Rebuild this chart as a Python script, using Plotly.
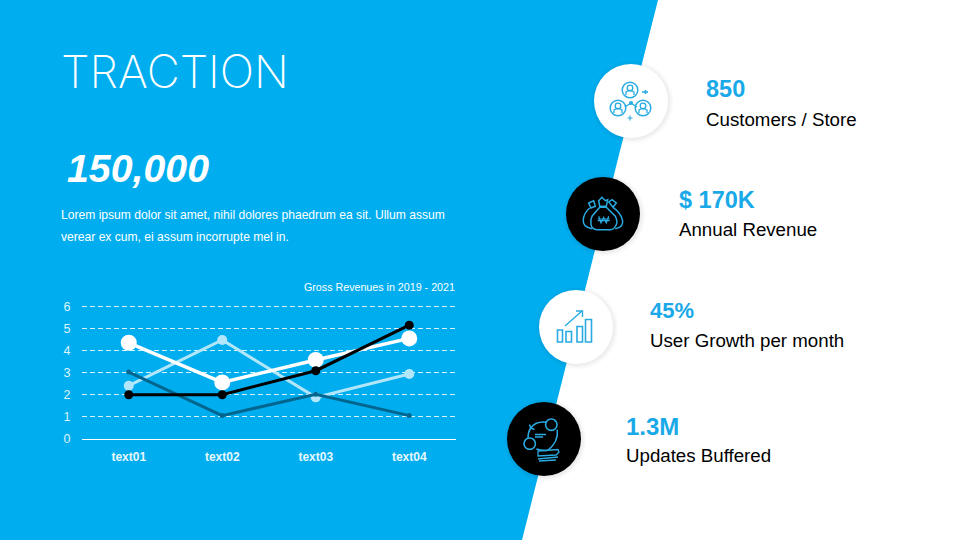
import plotly.graph_objects as go

# chart data
categories = ['text01', 'text02', 'text03', 'text04']
series_light = [2.41, 4.49, 1.88, 2.94]
series_dark = [3.03, 1.05, 2.02, 1.05]
series_white = [4.36, 2.56, 3.58, 4.56]
series_black = [2, 2, 3.09, 5.16]
y_ticks = [0, 1, 2, 3, 4, 5, 6]

# right hand column
stat_values = ['850', '$ 170K', '45%', '1.3M']
stat_labels = ['Customers / Store', 'Annual Revenue', 'User Growth per month', 'Updates Buffered']
stat_x = [706, 679, 650, 626]
stat_value_y = [89, 200, 310, 426]
stat_label_y = [119, 229, 340, 455]
stat_value_size = [23.5, 23.5, 22, 24]

BLUE = '#00AEEF'
TEXT_BLUE = '#1AA9E8'
ICON_BLUE = '#29ABE2'
SANS = 'Liberation Sans'

fig = go.Figure()


def add_series(values, color, width, size):
    fig.add_trace(go.Scatter(x=categories, y=values, mode='lines+markers',
                             line=dict(color=color, width=width),
                             marker=dict(color=color, size=size),
                             showlegend=False, hoverinfo='skip'))


add_series(series_light, '#B2E6FB', 3, 10)
add_series(series_dark, '#00668F', 3, 5)
add_series(series_white, '#FFFFFF', 3.5, 16)
add_series(series_black, '#000000', 3, 9)


def px_shape(kind, **kw):
    # shapes go on the hidden pixel axes
    fig.add_shape(type=kind, xref='x2', yref='y2', **kw)


def circle(cx, cy, r, fill='rgba(0,0,0,0)', color=None, width=0, layer='above'):
    px_shape('circle', x0=cx - r, x1=cx + r, y0=cy - r, y1=cy + r, fillcolor=fill,
             line=dict(color=color, width=width), layer=layer)


def stroke(path, width=1.5, color=ICON_BLUE, fill='rgba(0,0,0,0)'):
    px_shape('path', path=path, line=dict(color=color, width=width), fillcolor=fill, layer='above')


def badge(cx, cy, fill):
    # soft shadow then the disc
    for grow, alpha in [(5, 0.008), (4, 0.01), (3, 0.012), (2, 0.015), (1, 0.02)]:
        circle(cx + 1, cy + 1, 37 + grow, fill='rgba(0,0,0,%s)' % alpha)
    circle(cx, cy, 37, fill=fill)


def person(cx, cy):
    circle(cx, cy, 7.8, color=ICON_BLUE, width=1.5)
    circle(cx, cy - 2, 2.8, color=ICON_BLUE, width=1.3)
    stroke('M %s %s V %s Q %s %s %s %s V %s' % (cx - 4, cy + 5, cy + 2, cx, cy - 1, cx + 4, cy + 2, cy + 5), 1.3)


def page_text(x, y, text, font, anchor='left'):
    # annotations carry about 2px of padding, shift it back out
    fig.add_annotation(x=x, y=y, xref='x2', yref='y2', xanchor=anchor, yanchor='middle', showarrow=False,
                       xshift=-2 if anchor == 'left' else 2, text=text, font=font)


# background panel, on paper so that it stays under the chart
fig.add_shape(type='path', xref='paper', yref='paper', layer='below',
              path='M 0 0 V 1 H %s L %s 0 Z' % (658 / 960, 522 / 960),
              fillcolor=BLUE, line=dict(width=0))

badge(631, 101, '#FFFFFF')
badge(603, 214, '#000000')
badge(576, 327, '#FFFFFF')
badge(544, 439, '#000000')

# people icon
person(630, 90)
person(618, 108)
person(643, 108)
circle(631, 103, 2, fill=ICON_BLUE)
stroke('M 625 107 L 631 103 L 637 107', 1.4)
stroke('M 642 92 H 648 M 645.5 90 V 94', 1.6)
stroke('M 627.5 118 H 632.5 M 630 115.5 V 120.5', 1.1)

# money bags icon
stroke('M 588.7 203 L 593.7 200.7 L 595.3 206.3 L 591 208 Z')
stroke('M 598.7 200.7 L 602 197.3 L 605.3 200.7 L 607.7 199.7 L 606.3 206.3 H 599.7 Z')
stroke('M 608.7 202 L 612 199.7 L 616.3 203 L 613 207.3 Z')
stroke('M 599.7 207.3 H 606.3 L 615.3 216.3 Q 618 222 616.3 224.7 Q 614 229.7 610.3 229.7 H 597 Q 592 229.7 591 224.7 Q 590 220 592 216.3 Z')
stroke('M 589.7 208 Q 583.7 213 583.3 220 Q 582.5 227 592 228.7')
stroke('M 613 207.3 Q 620.3 212 622.5 220 Q 624 227 615.3 228.7')
stroke('M 598.7 216.3 L 601 223 L 603.7 217.3 L 606.3 223 L 608.7 216.3 M 597.7 219 H 609.7 M 597.7 220.7 H 609.7', 1.2)

# growth icon
for x0, x1, y0 in [(557.5, 562.5, 330), (566, 571.5, 331.5), (577, 582.5, 326.5), (585.5, 591.5, 319.5)]:
    stroke('M %s %s H %s V 342 H %s Z' % (x0, y0, x1, x0), 1.6)
stroke('M 565 326 L 582 311', 1.4)
stroke('M 576 311 H 582.5 V 317', 1.4)

# buffered icon
stroke('M 530.7 428 C 534 423.5 540 421.5 546.3 422.3 M 530.7 428 L 529.5 424.5 M 530.7 428 L 534.5 429.5')
stroke('M 530.7 428 Q 528 432 528 438')
stroke('M 557.3 429.7 C 558 436 556 444 548 450.3 Q 542 451 536.3 449')
circle(551.3, 424.7, 5.7, color=ICON_BLUE, width=1.6)
circle(529.7, 443.7, 5.7, color=ICON_BLUE, width=1.6)
stroke('M 535 437 H 543 M 535 434.5 H 546', 1.3)
stroke('M 538 451 L 558 449.5 L 559 452 L 556 455 L 538 456 Z M 538 459 L 558 457 M 539 461 L 556 460', 1.3)

# page text
page_text(61, 71, 'TRACTION', dict(family='Inter', size=45.5, color='#FFFFFF', weight=200))
page_text(67, 168, '<b><i>150,000</i></b>', dict(family=SANS, size=39.3, color='#FFFFFF'))
page_text(61, 214.5, 'Lorem ipsum dolor sit amet, nihil dolores phaedrum ea sit. Ullum assum',
          dict(family=SANS, size=12.1, color='#FFFFFF'))
page_text(61, 237, 'verear ex cum, ei assum incorrupte mel in.', dict(family=SANS, size=12.1, color='#FFFFFF'))
page_text(455, 287, 'Gross Revenues in 2019 - 2021', dict(family=SANS, size=10.7, color='#FFFFFF'), anchor='right')

for value, label, x, vy, ly, size in zip(stat_values, stat_labels, stat_x, stat_value_y, stat_label_y, stat_value_size):
    page_text(x, vy, '<b>%s</b>' % value, dict(family=SANS, size=size, color=TEXT_BLUE))
    page_text(x, ly, label, dict(family=SANS, size=18.7, color='#000000'))

fig.update_layout(
    width=960, height=540,
    margin=dict(l=0, r=0, t=0, b=0),
    paper_bgcolor='#FFFFFF', plot_bgcolor='rgba(0,0,0,0)',
    font=dict(family=SANS),
    xaxis=dict(domain=[82 / 960, 456 / 960], range=[-0.5, 3.5], type='category',
               categoryorder='array', categoryarray=categories, automargin=False,
               showgrid=False, zeroline=False, showline=True, linecolor='#FFFFFF', linewidth=1,
               ticks='outside', ticklen=7, tickcolor='rgba(0,0,0,0)',
               tickfont=dict(family=SANS, size=12, color='#E6F7FE', weight='bold'),
               anchor='y', fixedrange=True),
    # range runs a little past 6, plotly drops a gridline that sits on the very end
    yaxis=dict(domain=[(540 - 438.7) / 540, (540 - 304.5) / 540], range=[0, 6.1], tickvals=y_ticks,
               automargin=False,
               showgrid=True, gridcolor='rgba(255,255,255,0.85)', griddash='5px,3px', gridwidth=1, zeroline=False,
               showline=False, ticks='outside', ticklen=8, tickcolor='rgba(0,0,0,0)',
               tickfont=dict(family=SANS, size=12.5, color='#DDF4FD'),
               anchor='x', fixedrange=True),
    xaxis2=dict(domain=[0, 1], range=[0, 960], visible=False, anchor='y2', fixedrange=True, automargin=False),
    yaxis2=dict(domain=[0, 1], range=[540, 0], visible=False, anchor='x2', fixedrange=True, automargin=False),
)

# page margin off so the figure sits at the window corner
fig.write_html("out.html", config={'displayModeBar': False},
               post_script="document.body.style.margin='0';document.documentElement.style.overflow='hidden';var d=document.getElementById('{plot_id}');d.style.position='fixed';d.style.left='0';d.style.top='0';")
